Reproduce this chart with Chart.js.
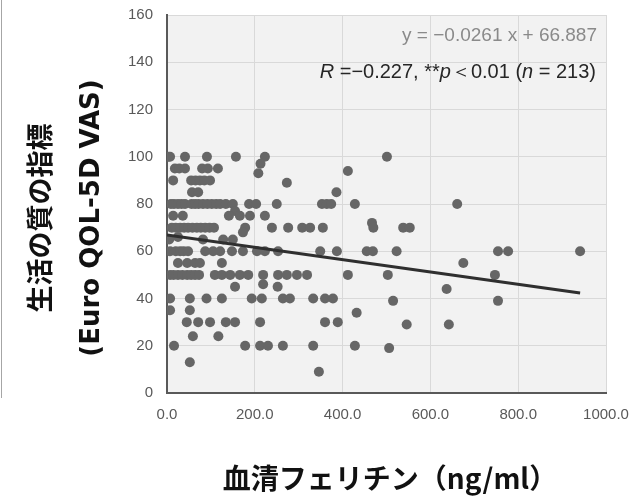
<!DOCTYPE html>
<html><head><meta charset="utf-8">
<script src="https://cdn.jsdelivr.net/npm/chart.js@4/dist/chart.umd.min.js"></script>
<style>html,body{margin:0;padding:0;background:#fff}#wrap{width:635px;height:501px;position:relative}</style>
</head><body><div id="wrap"><canvas id="c" width="635" height="501"></canvas></div>
<script>
// Serum ferritin (ng/ml) per patient
const ferritin = [
 7,41,91,157,223,501,208,213,3,
 18,28,41,80,93,116,412,
 273,386,
 14,55,65,75,85,98,
 57,71,
 9,16,25,33,41,56,64,72,82,92,102,112,121,134,150,187,203,250,353,364,374,428,661,155,
 14,36,141,166,189,223,
 11,20,30,39,48,58,68,77,87,97,107,178,239,276,308,326,355,467,470,538,553,
 5,25,82,128,150,173,
 7,20,30,38,48,87,105,121,148,173,205,223,253,349,387,455,469,523,754,777,941,
 25,46,64,75,125,675,
 7,15,25,35,46,55,64,73,109,125,144,166,185,219,253,273,296,319,412,503,747,
 155,219,252,637,
 7,52,90,125,193,216,264,280,333,360,378,515,754,
 432,
 7,52,
 45,71,98,134,155,212,360,389,546,642,
 59,117,
 16,178,212,230,264,333,428,506,
 52,346
];
// Euro QOL-5D VAS per patient
const vas = [
 100,100,100,100,100,100,93,97,100,
 95,95,95,95,95,95,94,
 89,85,
 90,90,90,90,90,90,
 85,85,
 80,80,80,80,80,80,80,80,80,80,80,80,80,80,80,80,80,80,80,80,80,80,80,77,
 75,75,75,75,75,75,
 70,70,70,70,70,70,70,70,70,70,70,70,70,70,70,70,70,72,70,70,70,
 65,66,65,65,65,68,
 60,60,60,60,60,60,60,60,60,60,60,60,60,60,60,60,60,60,60,60,60,
 55,55,55,55,55,55,
 50,50,50,50,50,50,50,50,50,50,50,50,50,50,50,50,50,50,50,50,50,
 45,46,45,44,
 40,40,40,40,40,40,40,40,40,40,40,39,39,
 34,
 35,35,
 30,30,30,30,30,30,30,30,29,29,
 24,24,
 20,20,20,20,20,20,20,19,
 13,9
];
// Regression line end points (x, y)
const trendX = [0, 941];
const trendY = [66.9, 42.3];

const xTickLabels = ['0.0','200.0','400.0','600.0','800.0','1000.0'];
const yTickLabels = ['0','20','40','60','80','100','120','140','160'];
const yTitleLines = ['生活の質の指標', '(Euro QOL-5D VAS)'];
const xTitle = '血清フェリチン（ng/ml）';
const eqText = 'y = −0.0261 x + 66.887';
const statParts = [['R', true], [' =−0.227, **', false], ['p', true], ['＜0.01 (', false], ['n', true], [' = 213)', false]];

const deco = {
  id: 'deco',
  beforeDraw(chart) {
    const {ctx, chartArea: a} = chart;
    ctx.save();
    ctx.fillStyle = '#f2f2f2';
    ctx.fillRect(a.left, a.top, a.right - a.left, a.bottom - a.top);
    ctx.strokeStyle = '#a6a6a6'; ctx.lineWidth = 1;
    ctx.beginPath(); ctx.moveTo(1.5, 0); ctx.lineTo(1.5, 398); ctx.stroke();
    ctx.restore();
  },
  afterDraw(chart) {
    const {ctx} = chart;
    ctx.save();
    ctx.fillStyle = '#111';
    ctx.textAlign = 'center'; ctx.textBaseline = 'middle';
    // y titles
    const yCenters = [40, 92];
    const yFonts = ['bold 27px "Noto Sans CJK JP", "Noto Sans", sans-serif',
                    'bold 26px "DejaVu Sans", "Noto Sans", sans-serif'];
    yTitleLines.forEach((t, i) => {
      ctx.save();
      ctx.translate(yCenters[i], 218);
      ctx.rotate(-Math.PI / 2);
      ctx.font = yFonts[i];
      ctx.fillText(t, 0, 0);
      ctx.restore();
    });
    // x title
    ctx.font = 'bold 28px "Noto Sans CJK JP", "Noto Sans", sans-serif';
    ctx.fillText(xTitle, 390, 478);
    // equation
    ctx.textAlign = 'right';
    ctx.fillStyle = '#8a8a8a';
    ctx.font = '19px "Liberation Sans", Arial, sans-serif';
    ctx.fillText(eqText, 597, 36);
    // stats line
    ctx.fillStyle = '#262626';
    ctx.textAlign = 'left';
    const f = (it) => (it ? 'italic ' : '') + '20px "Liberation Sans", Arial, sans-serif';
    let total = 0;
    statParts.forEach(([t, it]) => { ctx.font = f(it); total += ctx.measureText(t).width; });
    let x = 596 - total;
    statParts.forEach(([t, it]) => { ctx.font = f(it); ctx.fillText(t, x, 72); x += ctx.measureText(t).width; });
    ctx.restore();
  }
};

new Chart(document.getElementById('c'), {
  type: 'scatter',
  data: {
    datasets: [
      {
        type: 'line',
        data: trendX.map((x, i) => ({x, y: trendY[i]})),
        borderColor: '#2f2f2f', borderWidth: 3, pointRadius: 0, fill: false, order: 0
      },
      {
        data: ferritin.map((x, i) => ({x, y: vas[i]})),
        backgroundColor: '#666666', borderWidth: 0, pointRadius: 5, pointHoverRadius: 5, order: 1
      }
    ]
  },
  options: {
    responsive: false, animation: false, devicePixelRatio: 1,
    layout: {padding: {top: 15, right: 29, left: 0, bottom: 0}},
    plugins: {legend: {display: false}, tooltip: {enabled: false}},
    scales: {
      x: {
        type: 'linear', min: 0, max: 1000,
        ticks: {stepSize: 200, padding: 13, color: '#595959', font: {family: '"Liberation Sans", Arial', size: 15},
          callback: (v, i) => xTickLabels[i]},
        grid: {color: '#d9d9d9', drawTicks: false, lineWidth: 1},
        border: {color: '#595959', width: 2},
        afterFit: s => { s.height = 108; s.paddingLeft = 0; s.paddingRight = 0; }
      },
      y: {
        min: 0, max: 160,
        ticks: {stepSize: 20, padding: 14, color: '#595959', font: {family: '"Liberation Sans", Arial', size: 15},
          callback: (v, i) => yTickLabels[i]},
        grid: {color: '#d9d9d9', drawTicks: false, lineWidth: 1},
        border: {color: '#595959', width: 2},
        afterFit: s => { s.width = 167; s.paddingTop = 0; s.paddingBottom = 0; }
      }
    }
  },
  plugins: [deco]
});
</script>
</body></html>
